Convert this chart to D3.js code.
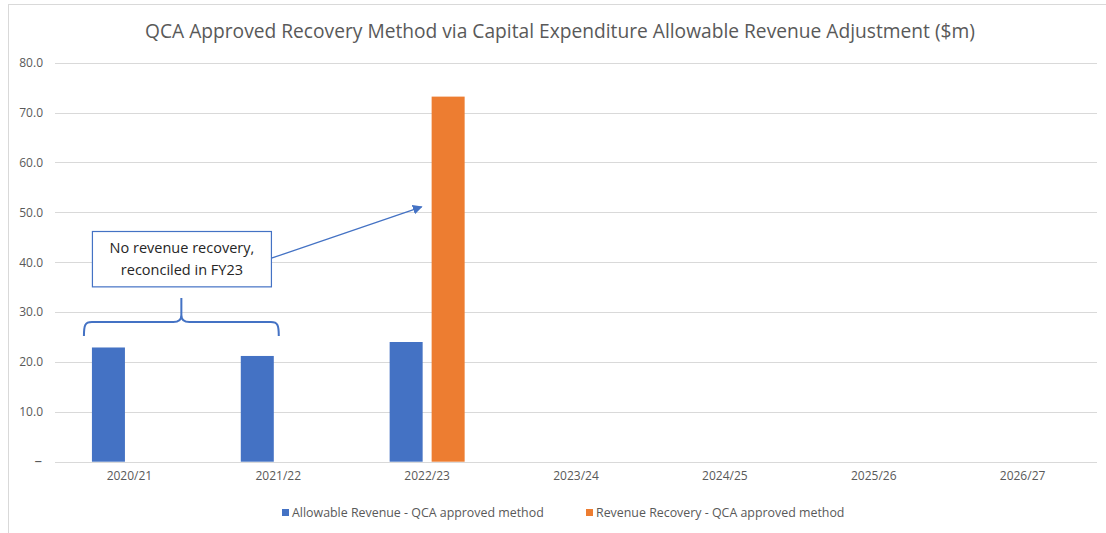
<html>
<head>
<script src="https://d3js.org/d3.v7.min.js"></script>
</head>
<style>
body { margin:0; background:#fff; }
text { font-family: "Open Sans", sans-serif; }
</style>
<body>
<script>

var width = 1106;
var height = 533;

// data ($m)
var years = ["2020/21", "2021/22", "2022/23", "2023/24", "2024/25", "2025/26", "2026/27"];
var keys = ["allowable", "recovery"];
var keyLabels = ["Allowable Revenue - QCA approved method", "Revenue Recovery - QCA approved method"];
var allowable = [22.9, 21.2, 24.0, null, null, null, null];
var recovery = [null, null, 73.2, null, null, null, null];
var yTicks = [0, 10, 20, 30, 40, 50, 60, 70, 80];
var colors = ["#4472C4", "#ED7D31"];

var rows = years.map(function(yr, i) {
  return {year: yr, allowable: allowable[i], recovery: recovery[i]};
});

var margin = {left:55, right:9, top:62, bottom:71};

var x0 = d3.scaleBand()
    .domain(years)
    .range([margin.left, width - margin.right]);

var groupW = 75;
var x1 = d3.scaleBand()
    .domain(keys)
    .range([(x0.bandwidth() - groupW) / 2, (x0.bandwidth() + groupW) / 2])
    .paddingInner(0.214);

var y = d3.scaleLinear()
    .domain([0, 80])
    .range([height - margin.bottom - 0.3, margin.top + 0.7]);

var z = d3.scaleOrdinal().domain(keys).range(colors);

var svg = d3.select("body").append("svg")
    .attr("width", width)
    .attr("height", height);

// chart frame
svg.append("rect")
    .attr("x", 8.5).attr("y", 4.5)
    .attr("width", 1200).attr("height", 600)
    .attr("fill", "none")
    .attr("stroke", "#d9d9d9");

// title
svg.append("text")
    .attr("x", 560).attr("y", 31)
    .attr("text-anchor", "middle")
    .attr("dy", "0.35em")
    .attr("fill", "#595959")
    .style("font-size", "19.2px")
    .text("QCA Approved Recovery Method via Capital Expenditure Allowable Revenue Adjustment ($m)");

// gridlines
svg.append("g")
  .selectAll("line")
  .data(yTicks)
  .enter().append("line")
    .attr("x1", margin.left)
    .attr("x2", width - margin.right)
    .attr("y1", function(d) { return Math.round(y(d)) + 0.5; })
    .attr("y2", function(d) { return Math.round(y(d)) + 0.5; })
    .attr("stroke", "#d9d9d9");

// y axis labels
var yAxis = d3.axisLeft(y)
    .tickValues(yTicks)
    .tickSize(0)
    .tickPadding(0)
    .tickFormat(function(d) { return d === 0 ? "–" : d3.format(".1f")(d); });

var ya = svg.append("g")
    .attr("transform", "translate(43,0)")
    .call(yAxis);
ya.select(".domain").remove();
ya.selectAll("text")
    .attr("fill", "#595959")
    .style("font-size", function(d) { return d === 0 ? "15px" : "12px"; })
    .attr("x", function(d) { return d === 0 ? -1 : 0; })
    .attr("dy", function(d) { return d === 0 ? "0.25em" : "0.32em"; });

// x axis labels
var xa = svg.append("g")
    .attr("transform", "translate(0," + (y(0) + 10) + ")")
    .call(d3.axisBottom(x0).tickSize(0).tickPadding(0));
xa.select(".domain").remove();
xa.selectAll("text")
    .attr("fill", "#595959")
    .style("font-size", "12px")
    .attr("dy", "0.71em");

// bars
svg.append("g")
  .selectAll("g")
  .data(rows)
  .enter().append("g")
    .attr("transform", function(d) { return "translate(" + x0(d.year) + ",0)"; })
  .selectAll("rect")
  .data(function(d) {
    return keys.filter(function(k) { return d[k] != null; })
      .map(function(k) { return {key: k, value: d[k]}; });
  })
  .enter().append("rect")
    .attr("x", function(d) { return x1(d.key); })
    .attr("y", function(d) { return y(d.value); })
    .attr("width", x1.bandwidth())
    .attr("height", function(d) { return y(0) - y(d.value); })
    .attr("fill", function(d) { return z(d.key); });

// annotation: bracket over first two years
var bl = x0(years[0]) + x1("allowable") - 8;
var br = x0(years[1]) + x1("allowable") + x1.bandwidth() + 5;
var bm = (bl + br) / 2;
var by = y(28), bb = y(25.2), bt = y(32.8);
var brace = d3.path();
brace.moveTo(bl, bb);
brace.bezierCurveTo(bl, by + 3, bl + 1, by, bl + 8, by);
brace.lineTo(bm - 8, by);
brace.bezierCurveTo(bm - 3, by, bm, by - 2, bm, by - 7);
brace.lineTo(bm, bt);
brace.moveTo(bm, by - 7);
brace.bezierCurveTo(bm, by - 2, bm + 3, by, bm + 8, by);
brace.lineTo(br - 8, by);
brace.bezierCurveTo(br - 1, by, br, by + 3, br, bb);
svg.append("path")
    .attr("d", brace.toString())
    .attr("fill", "none")
    .attr("stroke", "#4472C4")
    .attr("stroke-width", 2);

// annotation box
var boxX = x0(years[0]) + x1("allowable") + 0.5;
var boxW = 179;
var boxTop = y(46.2), boxBot = y(35.1);
svg.append("rect")
    .attr("x", boxX).attr("y", Math.round(boxTop) + 0.5)
    .attr("width", boxW).attr("height", boxBot - boxTop)
    .attr("fill", "#fff")
    .attr("stroke", "#4472C4")
    .attr("stroke-width", 1.2);

var note = svg.append("text")
    .attr("text-anchor", "middle")
    .attr("fill", "#262626")
    .style("font-size", "14.5px");
note.append("tspan").attr("x", boxX + boxW / 2).attr("y", boxTop + 22).text("No revenue recovery,");
note.append("tspan").attr("x", boxX + boxW / 2).attr("y", boxTop + 44).text("reconciled in FY23");

// arrow from box to orange bar
svg.append("defs").append("marker")
    .attr("id", "head")
    .attr("viewBox", "0 0 10 10")
    .attr("refX", 9).attr("refY", 5)
    .attr("markerWidth", 7.5).attr("markerHeight", 7.5)
    .attr("orient", "auto")
  .append("path")
    .attr("d", "M0,0 L10,5 L0,10 Z")
    .attr("fill", "#4472C4");

svg.append("line")
    .attr("x1", boxX + boxW).attr("y1", y(40.8))
    .attr("x2", x0(years[2]) + x1("recovery") - 10).attr("y2", y(51.1))
    .attr("stroke", "#4472C4")
    .attr("stroke-width", 1.3)
    .attr("marker-end", "url(#head)");

// legend
var legendX = [282, 586];
var legend = svg.append("g")
  .selectAll("g")
  .data(keys)
  .enter().append("g")
    .attr("transform", function(d, i) { return "translate(" + legendX[i] + ",509)"; });

legend.append("rect")
    .attr("width", 7).attr("height", 7)
    .attr("fill", z);

legend.append("text")
    .attr("x", 10).attr("y", 3.5)
    .attr("dy", "0.35em")
    .attr("fill", "#595959")
    .style("font-size", "12.4px")
    .text(function(d, i) { return keyLabels[i]; });

</script>
</body>
</html>
